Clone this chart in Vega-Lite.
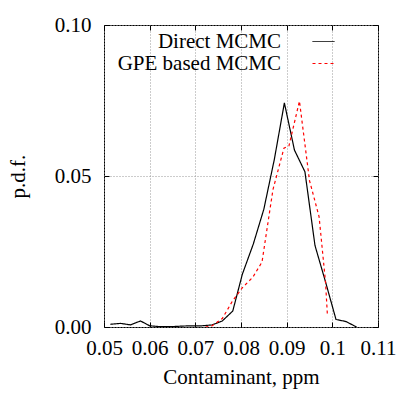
{
  "$schema": "https://vega.github.io/schema/vega-lite/v6.json",
  "width": 274,
  "height": 302,
  "autosize": {"type": "none"},
  "padding": {"left": 104, "top": 25, "right": 37, "bottom": 68},
  "background": "white",
  "config": {
    "font": "Liberation Serif",
    "view": {"stroke": "black", "strokeWidth": 1},
    "axis": {
      "labelFont": "Liberation Serif",
      "titleFont": "Liberation Serif",
      "labelFontSize": 21,
      "titleFontSize": 21,
      "titleFontWeight": "normal",
      "labelColor": "black",
      "titleColor": "black",
      "domain": false,
      "tickColor": "black",
      "tickSize": -5,
      "gridColor": "#999999",
      "gridDash": [1, 2],
      "gridWidth": 1
    },
    "legend": {"labelFont": "Liberation Serif"}
  },
  "datasets": {
    "pdf": [
      {"x": 0.0514, "y": 0.0009, "s": "Direct MCMC"},
      {"x": 0.0536, "y": 0.0012, "s": "Direct MCMC"},
      {"x": 0.0558, "y": 0.0007, "s": "Direct MCMC"},
      {"x": 0.0580, "y": 0.0020, "s": "Direct MCMC"},
      {"x": 0.0600, "y": 0.0004, "s": "Direct MCMC"},
      {"x": 0.0625, "y": 0.0001, "s": "Direct MCMC"},
      {"x": 0.0647, "y": 0.0001, "s": "Direct MCMC"},
      {"x": 0.0670, "y": 0.0003, "s": "Direct MCMC"},
      {"x": 0.0692, "y": 0.0004, "s": "Direct MCMC"},
      {"x": 0.0714, "y": 0.0004, "s": "Direct MCMC"},
      {"x": 0.0737, "y": 0.0007, "s": "Direct MCMC"},
      {"x": 0.0759, "y": 0.0020, "s": "Direct MCMC"},
      {"x": 0.0782, "y": 0.0053, "s": "Direct MCMC"},
      {"x": 0.0803, "y": 0.0175, "s": "Direct MCMC"},
      {"x": 0.0827, "y": 0.0275, "s": "Direct MCMC"},
      {"x": 0.0850, "y": 0.0390, "s": "Direct MCMC"},
      {"x": 0.0873, "y": 0.0555, "s": "Direct MCMC"},
      {"x": 0.0895, "y": 0.0742, "s": "Direct MCMC"},
      {"x": 0.0917, "y": 0.0586, "s": "Direct MCMC"},
      {"x": 0.0940, "y": 0.0514, "s": "Direct MCMC"},
      {"x": 0.0962, "y": 0.0270, "s": "Direct MCMC"},
      {"x": 0.0985, "y": 0.0150, "s": "Direct MCMC"},
      {"x": 0.1008, "y": 0.0025, "s": "Direct MCMC"},
      {"x": 0.1030, "y": 0.0018, "s": "Direct MCMC"},
      {"x": 0.1053, "y": 0.0000, "s": "Direct MCMC"},
      {"x": 0.0722, "y": 0.0000, "s": "GPE based MCMC"},
      {"x": 0.0737, "y": 0.0004, "s": "GPE based MCMC"},
      {"x": 0.0759, "y": 0.0028, "s": "GPE based MCMC"},
      {"x": 0.0781, "y": 0.0085, "s": "GPE based MCMC"},
      {"x": 0.0803, "y": 0.0130, "s": "GPE based MCMC"},
      {"x": 0.0826, "y": 0.0165, "s": "GPE based MCMC"},
      {"x": 0.0846, "y": 0.0215, "s": "GPE based MCMC"},
      {"x": 0.0870, "y": 0.0455, "s": "GPE based MCMC"},
      {"x": 0.0894, "y": 0.0592, "s": "GPE based MCMC"},
      {"x": 0.0905, "y": 0.0600, "s": "GPE based MCMC"},
      {"x": 0.0928, "y": 0.0748, "s": "GPE based MCMC"},
      {"x": 0.0950, "y": 0.0485, "s": "GPE based MCMC"},
      {"x": 0.0971, "y": 0.0365, "s": "GPE based MCMC"},
      {"x": 0.0985, "y": 0.0150, "s": "GPE based MCMC"},
      {"x": 0.0989, "y": 0.0045, "s": "GPE based MCMC"}
    ]
  },
  "data": {"name": "pdf"},
  "layer": [
    {
      "mark": {"type": "line", "strokeWidth": 1.2, "clip": true},
      "encoding": {
        "x": {
          "field": "x", "type": "quantitative",
          "scale": {"domain": [0.05, 0.11], "nice": false, "zero": false},
          "axis": {"orient": "bottom", "values": [0.05, 0.06, 0.07, 0.08, 0.09, 0.1, 0.11], "format": ".2~f", "title": "Contaminant, ppm", "labelPadding": 15, "titlePadding": 8, "labelFlush": false}
        },
        "y": {
          "field": "y", "type": "quantitative",
          "scale": {"domain": [0, 0.1], "nice": false},
          "axis": {"orient": "left", "values": [0, 0.05, 0.1], "format": ".2f", "title": "p.d.f.", "labelPadding": 18, "titlePadding": 26, "labelFlush": false}
        },
        "color": {
          "field": "s", "type": "nominal",
          "scale": {"domain": ["Direct MCMC", "GPE based MCMC"], "range": ["black", "red"]},
          "legend": {
            "title": null,
            "orient": "none",
            "legendX": 208,
            "legendY": 5,
            "symbolType": "stroke",
            "symbolSize": 484,
            "symbolStrokeWidth": 1,
            "labelAlign": "right",
            "labelOffset": -54,
            "labelFont": "Liberation Serif",
            "labelFontSize": 21,
            "labelColor": "black",
            "labelLimit": 400,
            "rowPadding": 0
          }
        },
        "strokeDash": {
          "field": "s", "type": "nominal",
          "scale": {"domain": ["Direct MCMC", "GPE based MCMC"], "range": [[1, 0], [3, 3]]},
          "legend": null
        }
      }
    },
    {
      "mark": {"type": "line", "strokeOpacity": 0},
      "encoding": {
        "x": {
          "field": "x", "type": "quantitative",
          "axis": {"orient": "top", "values": [0.05, 0.06, 0.07, 0.08, 0.09, 0.1, 0.11], "labels": false, "title": null, "grid": false}
        },
        "y": {
          "field": "y", "type": "quantitative",
          "axis": {"orient": "right", "values": [0, 0.05, 0.1], "labels": false, "title": null, "grid": false}
        }
      }
    }
  ],
  "resolve": {"axis": {"x": "independent", "y": "independent"}}
}
